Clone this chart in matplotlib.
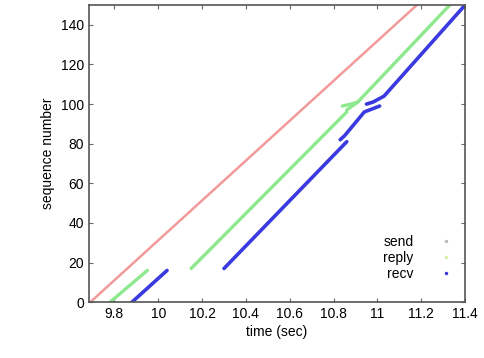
import numpy as np
import matplotlib
matplotlib.use("Agg")
import matplotlib.pyplot as plt
from matplotlib.lines import Line2D

# segment vertices: (time, seq)
send_t = [9.69, 11.18]
send_s = [0, 150]

reply_segs = [
    ([9.78, 9.95], [0, 16]),
    ([10.15, 10.86], [17, 96]),
    ([10.84, 10.88, 10.91], [99, 100, 101]),
    ([10.86, 10.91, 11.33], [97, 101, 150]),
]
recv_segs = [
    ([9.88, 10.04], [0, 16]),
    ([10.30, 10.86], [17, 81]),
    ([10.83, 10.85, 10.94, 11.01], [82, 84, 96, 99]),
    ([10.95, 10.98, 11.03, 11.40], [100, 101, 104, 150]),
]

c_send = '#f29a9a'
c_reply = '#8ee88e'
c_recv = '#3a3ae0'

plt.rcParams['font.family'] = ['Liberation Sans', 'DejaVu Sans']
fig = plt.figure(figsize=(4.85, 3.58), dpi=100)
ax = fig.add_axes([0.1835, 0.156, 0.7755, 0.83])

ax.plot(send_t, send_s, color=c_send, lw=1.8, solid_capstyle='round')
for t, s in reply_segs:
    ax.plot(t, s, color=c_reply, lw=2.4, solid_capstyle='round')
for t, s in recv_segs:
    ax.plot(t, s, color=c_recv, lw=2.6, solid_capstyle='round')

ax.set_xlim(9.684, 11.4)
ax.set_ylim(0, 150)
ax.set_xticks(np.arange(9.8, 11.41, 0.2))
ax.set_xticklabels(['9.8', '10', '10.2', '10.4', '10.6', '10.8', '11', '11.2', '11.4'])
ax.set_yticks(range(0, 141, 20))
ax.tick_params(direction='in', top=True, right=True, length=3, labelsize=10, color='#666666')
for sp in ax.spines.values():
    sp.set_color('#555555')
    sp.set_linewidth(1.2)
ax.set_xlabel('time (sec)', fontsize=10, labelpad=3)
ax.set_ylabel('sequence number', fontsize=10, labelpad=4)

handles = [Line2D([], [], ls='none', marker='.', ms=3, color=c) for c in ('#bbbbbb', '#d8f0a0', c_recv)]
ax.legend(handles, ['send', 'reply', 'recv'], loc='lower right', markerfirst=False,
          frameon=False, fontsize=10, handlelength=1.5, handletextpad=1.6,
          labelspacing=0.15, bbox_to_anchor=(1.01, 0.03))

fig.savefig('out.png', dpi=100)
